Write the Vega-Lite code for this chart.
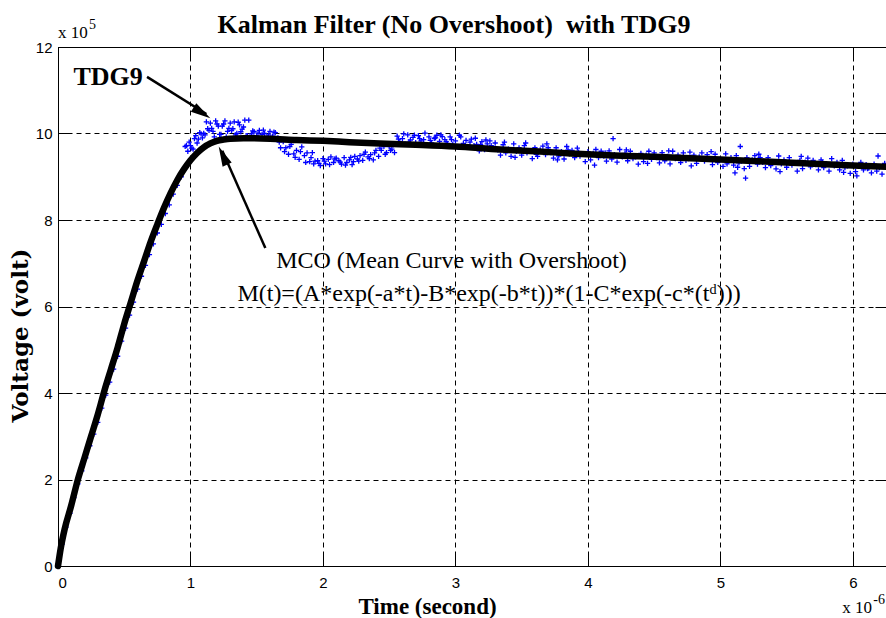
{
"$schema": "https://vega.github.io/schema/vega-lite/v6.json",
"width": 828, "height": 519,
"autosize": {"type": "none"},
"padding": {"left": 58, "top": 47, "right": 0, "bottom": 52},
"background": "white",
"title": {"text": "Kalman Filter (No Overshoot)\u00a0 with TDG9", "font": "Liberation Serif", "fontSize": 26, "fontWeight": "bold", "color": "black", "anchor": "middle", "frame": "group", "dx": -18, "dy": 55, "offset": 14, "baseline": "alphabetic"},
"config": {
  "view": {"stroke": "black", "strokeWidth": 1},
  "axis": {"domainColor": "black", "tickColor": "black", "tickSize": -11, "tickWidth": 1, "gridColor": "black", "gridDash": [5, 4], "gridOpacity": 1, "gridWidth": 1, "labelFont": "Liberation Sans", "labelFontSize": 15, "labelColor": "black", "titleFont": "Liberation Serif", "titleFontWeight": "bold", "titleColor": "black", "titleFontSize": 23}
},
"datasets": {
"pts": [
{"t":0.01,"v":0.15},{"t":0.03,"v":0.5},{"t":0.06,"v":0.9},{"t":0.09,"v":1.22},{"t":0.12,"v":1.58},{"t":0.15,"v":1.9},{"t":0.18,"v":2.2},{"t":0.21,"v":2.5},{"t":0.24,"v":2.78},{"t":0.27,"v":3.05},{"t":0.30,"v":3.32},{"t":0.33,"v":3.65},{"t":0.36,"v":3.95},{"t":0.39,"v":4.25},{"t":0.42,"v":4.55},{"t":0.45,"v":4.85},{"t":0.48,"v":5.2},{"t":0.51,"v":5.5},{"t":0.54,"v":5.8},{"t":0.57,"v":6.1},{"t":0.60,"v":6.4},{"t":0.63,"v":6.7},{"t":0.66,"v":6.95},{"t":0.69,"v":7.2},{"t":0.72,"v":7.45},{"t":0.75,"v":7.7},{"t":0.78,"v":7.9},{"t":0.81,"v":8.15},{"t":0.84,"v":8.35},{"t":0.87,"v":8.6},{"t":0.90,"v":8.8},{"t":0.93,"v":9.0},{"t":0.95,"v":9.15},
{"t":0.96,"v":9.70},{"t":0.98,"v":9.59},{"t":1.00,"v":9.72},{"t":1.02,"v":9.64},{"t":1.04,"v":9.95},{"t":1.06,"v":9.87},{"t":1.08,"v":9.99},
{"t":0.97,"v":9.72},{"t":0.99,"v":9.80},{"t":1.01,"v":9.66},{"t":1.03,"v":9.88},{"t":1.05,"v":9.78},{"t":1.07,"v":10.02},{"t":1.09,"v":9.90},
{"t":1.10,"v":10.00},{"t":1.12,"v":10.27},{"t":1.14,"v":10.07},{"t":1.16,"v":10.12},{"t":1.18,"v":9.92},{"t":1.20,"v":10.22},{"t":1.22,"v":9.98},{"t":1.24,"v":10.17},{"t":1.26,"v":10.29},{"t":1.28,"v":10.05},{"t":1.30,"v":10.24},{"t":1.32,"v":10.11},{"t":1.34,"v":9.97},{"t":1.36,"v":10.26},{"t":1.38,"v":10.04},{"t":1.40,"v":10.15},{"t":1.42,"v":9.95},{"t":1.44,"v":10.31},
{"t":1.11,"v":9.97},{"t":1.13,"v":10.11},{"t":1.15,"v":10.24},{"t":1.17,"v":10.05},{"t":1.19,"v":10.29},{"t":1.21,"v":10.17},{"t":1.23,"v":9.98},{"t":1.25,"v":10.22},{"t":1.27,"v":9.92},{"t":1.29,"v":10.12},{"t":1.31,"v":10.07},{"t":1.33,"v":10.27},{"t":1.35,"v":10.00},{"t":1.37,"v":10.20},{"t":1.39,"v":10.10},{"t":1.41,"v":10.31},{"t":1.43,"v":9.95},
{"t":1.46,"v":9.99},{"t":1.48,"v":10.04},{"t":1.50,"v":9.94},{"t":1.52,"v":10.07},{"t":1.54,"v":9.98},{"t":1.56,"v":10.00},{"t":1.58,"v":9.90},{"t":1.60,"v":10.05},{"t":1.62,"v":9.94},{"t":1.64,"v":10.02},
{"t":1.47,"v":10.06},{"t":1.51,"v":10.01},{"t":1.55,"v":10.08},{"t":1.59,"v":9.97},{"t":1.63,"v":10.03},
{"t":1.66,"v":9.90},{"t":1.68,"v":9.67},{"t":1.70,"v":9.81},{"t":1.72,"v":9.67},{"t":1.74,"v":9.52},{"t":1.76,"v":9.75},{"t":1.78,"v":9.53},{"t":1.80,"v":9.61},{"t":1.82,"v":9.40},{"t":1.84,"v":9.69},{"t":1.86,"v":9.49},{"t":1.88,"v":9.55},{"t":1.90,"v":9.35},{"t":1.92,"v":9.56},{"t":1.94,"v":9.36},
{"t":1.67,"v":9.80},{"t":1.71,"v":9.58},{"t":1.75,"v":9.70},{"t":1.79,"v":9.45},{"t":1.83,"v":9.58},{"t":1.87,"v":9.33},{"t":1.91,"v":9.44},{"t":1.93,"v":9.30},
{"t":1.96,"v":9.37},{"t":1.98,"v":9.26},{"t":2.00,"v":9.42},{"t":2.02,"v":9.30},{"t":2.04,"v":9.40},{"t":2.06,"v":9.46},{"t":2.08,"v":9.33},{"t":2.10,"v":9.43},{"t":2.12,"v":9.37},{"t":2.14,"v":9.29},{"t":2.16,"v":9.44},{"t":2.18,"v":9.33},{"t":2.20,"v":9.39},{"t":2.22,"v":9.28},{"t":2.24,"v":9.47},
{"t":1.97,"v":9.31},{"t":2.01,"v":9.36},{"t":2.05,"v":9.28},{"t":2.09,"v":9.41},{"t":2.13,"v":9.34},{"t":2.17,"v":9.27},{"t":2.21,"v":9.45},{"t":2.23,"v":9.35},
{"t":2.26,"v":9.41},{"t":2.28,"v":9.49},{"t":2.30,"v":9.38},{"t":2.32,"v":9.57},{"t":2.34,"v":9.46},{"t":2.36,"v":9.51},{"t":2.38,"v":9.39},{"t":2.40,"v":9.61},{"t":2.42,"v":9.47},{"t":2.44,"v":9.61},{"t":2.46,"v":9.70},{"t":2.48,"v":9.56},{"t":2.50,"v":9.70},{"t":2.52,"v":9.64},{"t":2.54,"v":9.56},
{"t":2.27,"v":9.36},{"t":2.31,"v":9.52},{"t":2.35,"v":9.42},{"t":2.39,"v":9.55},{"t":2.43,"v":9.66},{"t":2.47,"v":9.52},{"t":2.51,"v":9.61},{"t":2.53,"v":9.74},
{"t":2.56,"v":9.94},{"t":2.58,"v":9.81},{"t":2.60,"v":9.88},{"t":2.62,"v":9.76},{"t":2.64,"v":9.97},{"t":2.66,"v":9.85},{"t":2.68,"v":9.91},{"t":2.70,"v":9.79},{"t":2.72,"v":9.95},{"t":2.74,"v":9.83},{"t":2.76,"v":9.86},{"t":2.78,"v":9.74},{"t":2.80,"v":9.92},{"t":2.82,"v":9.78},{"t":2.84,"v":9.89},{"t":2.86,"v":9.96},{"t":2.88,"v":9.82},{"t":2.90,"v":9.93},{"t":2.92,"v":9.86},{"t":2.94,"v":9.77},
{"t":2.57,"v":9.87},{"t":2.61,"v":9.99},{"t":2.65,"v":9.80},{"t":2.69,"v":9.96},{"t":2.73,"v":9.88},{"t":2.77,"v":10.01},{"t":2.81,"v":9.84},{"t":2.85,"v":9.90},{"t":2.89,"v":9.97},{"t":2.93,"v":9.81},
{"t":2.96,"v":9.92},{"t":2.98,"v":9.75},{"t":3.00,"v":9.83},{"t":3.02,"v":9.68},{"t":3.04,"v":9.92},{"t":3.06,"v":9.77},{"t":3.08,"v":9.84},{"t":3.10,"v":9.69},{"t":3.12,"v":9.87},{"t":3.14,"v":9.72},{"t":3.16,"v":9.75},{"t":3.18,"v":9.60},{"t":3.20,"v":9.81},{"t":3.22,"v":9.63},{"t":3.24,"v":9.76},{"t":3.26,"v":9.83},{"t":3.28,"v":9.66},{"t":3.30,"v":9.78},
{"t":2.97,"v":9.86},{"t":3.03,"v":9.96},{"t":3.07,"v":9.71},{"t":3.11,"v":9.80},{"t":3.15,"v":9.89},{"t":3.19,"v":9.74},{"t":3.23,"v":9.85},{"t":3.27,"v":9.72},
{"t":3.32,"v":9.62},{"t":3.34,"v":9.50},{"t":3.36,"v":9.74},{"t":3.38,"v":9.55},{"t":3.40,"v":9.64},{"t":3.42,"v":9.47},{"t":3.44,"v":9.76},{"t":3.46,"v":9.59},{"t":3.48,"v":9.67},{"t":3.50,"v":9.50},{"t":3.52,"v":9.72},{"t":3.54,"v":9.55},{"t":3.56,"v":9.59},{"t":3.58,"v":9.42},{"t":3.60,"v":9.67},{"t":3.62,"v":9.47},{"t":3.64,"v":9.62},{"t":3.66,"v":9.71},{"t":3.68,"v":9.51},{"t":3.70,"v":9.67},{"t":3.72,"v":9.56},{"t":3.74,"v":9.43},{"t":3.76,"v":9.67},{"t":3.78,"v":9.48},{"t":3.80,"v":9.58},{"t":3.82,"v":9.41},{"t":3.84,"v":9.70},{"t":3.86,"v":9.53},{"t":3.88,"v":9.61},{"t":3.90,"v":9.44},{"t":3.92,"v":9.66},{"t":3.94,"v":9.48},{"t":3.96,"v":9.52},{"t":3.98,"v":9.35},
{"t":3.37,"v":9.80},{"t":3.45,"v":9.45},{"t":3.53,"v":9.78},{"t":3.61,"v":9.52},{"t":3.69,"v":9.76},{"t":3.77,"v":9.39},{"t":3.85,"v":9.62},{"t":3.93,"v":9.57},
{"t":4.00,"v":9.58},{"t":4.02,"v":9.39},{"t":4.04,"v":9.54},{"t":4.06,"v":9.63},{"t":4.08,"v":9.44},{"t":4.10,"v":9.59},{"t":4.12,"v":9.48},{"t":4.14,"v":9.36},{"t":4.16,"v":9.60},{"t":4.18,"v":9.41},{"t":4.20,"v":9.51},{"t":4.22,"v":9.34},{"t":4.24,"v":9.63},{"t":4.26,"v":9.46},{"t":4.28,"v":9.54},{"t":4.30,"v":9.37},{"t":4.32,"v":9.59},{"t":4.34,"v":9.42},{"t":4.36,"v":9.46},{"t":4.38,"v":9.29},{"t":4.40,"v":9.54},{"t":4.42,"v":9.35},{"t":4.44,"v":9.50},{"t":4.46,"v":9.59},{"t":4.48,"v":9.40},{"t":4.50,"v":9.55},{"t":4.52,"v":9.44},{"t":4.54,"v":9.32},{"t":4.56,"v":9.56},{"t":4.58,"v":9.37},{"t":4.60,"v":9.47},{"t":4.62,"v":9.30},{"t":4.64,"v":9.59},{"t":4.66,"v":9.42},{"t":4.68,"v":9.50},{"t":4.70,"v":9.33},{"t":4.72,"v":9.55},{"t":4.74,"v":9.38},{"t":4.76,"v":9.42},{"t":4.78,"v":9.25},{"t":4.80,"v":9.50},{"t":4.82,"v":9.31},{"t":4.84,"v":9.46},{"t":4.86,"v":9.55},{"t":4.88,"v":9.36},{"t":4.90,"v":9.51},{"t":4.92,"v":9.40},{"t":4.94,"v":9.28},{"t":4.96,"v":9.52},{"t":4.98,"v":9.33},
{"t":4.19,"v":9.88},{"t":4.05,"v":9.27},{"t":4.13,"v":9.55},{"t":4.29,"v":9.62},{"t":4.45,"v":9.31},{"t":4.61,"v":9.60},{"t":4.77,"v":9.57},{"t":4.93,"v":9.58},
{"t":5.00,"v":9.41},{"t":5.02,"v":9.24},{"t":5.04,"v":9.53},{"t":5.06,"v":9.36},{"t":5.08,"v":9.44},{"t":5.10,"v":9.27},{"t":5.12,"v":9.49},{"t":5.14,"v":9.32},{"t":5.16,"v":9.36},{"t":5.18,"v":9.19},{"t":5.20,"v":9.44},{"t":5.22,"v":9.24},{"t":5.24,"v":9.39},{"t":5.26,"v":9.49},{"t":5.28,"v":9.29},{"t":5.30,"v":9.44},{"t":5.32,"v":9.33},{"t":5.34,"v":9.21},{"t":5.36,"v":9.44},{"t":5.38,"v":9.26},{"t":5.40,"v":9.35},{"t":5.42,"v":9.18},{"t":5.44,"v":9.48},{"t":5.46,"v":9.30},{"t":5.48,"v":9.39},{"t":5.50,"v":9.22},{"t":5.52,"v":9.44},{"t":5.54,"v":9.27},{"t":5.56,"v":9.31},{"t":5.58,"v":9.13},{"t":5.60,"v":9.38},{"t":5.62,"v":9.19},{"t":5.64,"v":9.34},{"t":5.66,"v":9.43},{"t":5.68,"v":9.23},{"t":5.70,"v":9.38},{"t":5.72,"v":9.28},{"t":5.74,"v":9.16},{"t":5.76,"v":9.39},{"t":5.78,"v":9.21},{"t":5.80,"v":9.30},{"t":5.82,"v":9.13},{"t":5.84,"v":9.42},{"t":5.86,"v":9.25},{"t":5.88,"v":9.33},{"t":5.90,"v":9.16},{"t":5.92,"v":9.38},{"t":5.94,"v":9.21},{"t":5.96,"v":9.25},{"t":5.98,"v":9.08},
{"t":5.15,"v":9.70},{"t":5.19,"v":8.97},{"t":5.11,"v":9.09},{"t":5.05,"v":9.30},{"t":5.13,"v":9.22},{"t":5.29,"v":9.52},{"t":5.45,"v":9.12},{"t":5.61,"v":9.47},{"t":5.77,"v":9.33},{"t":5.93,"v":9.10},
{"t":6.00,"v":9.29},{"t":6.02,"v":9.12},{"t":6.04,"v":9.25},{"t":6.06,"v":9.33},{"t":6.08,"v":9.16},{"t":6.10,"v":9.28},{"t":6.12,"v":9.20},{"t":6.14,"v":9.09},{"t":6.16,"v":9.29},{"t":6.18,"v":9.13},{"t":6.20,"v":9.21},{"t":6.22,"v":9.06},{"t":6.24,"v":9.31},
{"t":6.03,"v":9.02},{"t":6.11,"v":9.19},{"t":6.19,"v":9.48}
],
"curve": [
{"t":0,"v":0},{"t":0.02,"v":0.4},{"t":0.05,"v":0.85},{"t":0.1,"v":1.4},{"t":0.15,"v":2.0},{"t":0.2,"v":2.5},{"t":0.25,"v":3.0},{"t":0.3,"v":3.5},{"t":0.35,"v":4.05},{"t":0.4,"v":4.55},{"t":0.45,"v":5.05},{"t":0.5,"v":5.6},{"t":0.55,"v":6.1},{"t":0.6,"v":6.6},{"t":0.65,"v":7.05},{"t":0.7,"v":7.5},{"t":0.75,"v":7.9},{"t":0.8,"v":8.28},{"t":0.85,"v":8.62},{"t":0.9,"v":8.92},{"t":0.95,"v":9.17},{"t":1.0,"v":9.38},{"t":1.05,"v":9.55},{"t":1.1,"v":9.68},{"t":1.15,"v":9.77},{"t":1.2,"v":9.83},{"t":1.25,"v":9.86},{"t":1.3,"v":9.88},{"t":1.4,"v":9.89},{"t":1.6,"v":9.88},{"t":1.8,"v":9.85},{"t":2.0,"v":9.83},{"t":2.2,"v":9.8},{"t":2.43,"v":9.77},{"t":2.7,"v":9.74},{"t":3.0,"v":9.7},{"t":3.34,"v":9.63},{"t":3.6,"v":9.59},{"t":3.87,"v":9.54},{"t":4.2,"v":9.49},{"t":4.5,"v":9.46},{"t":5.0,"v":9.4},{"t":5.5,"v":9.33},{"t":6.0,"v":9.26},{"t":6.25,"v":9.23}
]
},
"resolve": {"axis": {"x": "independent", "y": "independent"}},
"layer": [
{"data": {"name": "pts"},
 "mark": {"type": "point", "shape": "M-1,0H1M0,-1V1", "filled": false, "stroke": "#0000ff", "strokeWidth": 1.3, "size": 28, "opacity": 1},
 "encoding": {
  "x": {"field": "t", "type": "quantitative", "scale": {"domain": [0, 6.25], "nice": false, "zero": false}, "axis": {"orient": "bottom", "values": [0,1,2,3,4,5,6], "grid": true, "title": "Time (second)", "labelPadding": 20, "titleX": 369, "titleY": 47, "titleBaseline": "alphabetic", "titleAnchor": "middle", "titleAlign": "center"}},
  "y": {"field": "v", "type": "quantitative", "scale": {"domain": [0, 12], "nice": false, "zero": false}, "axis": {"orient": "left", "values": [0,2,4,6,8,10,12], "grid": true, "title": "Voltage (volt)", "labelPadding": 17, "titleFont": "DejaVu Serif", "titleFontSize": 23, "titleX": -31, "titleY": 288, "titleAngle": -90, "titleBaseline": "alphabetic", "titleAlign": "center"}}
 }},
{"data": {"name": "curve"},
 "mark": {"type": "line", "color": "black", "strokeWidth": 6.5, "interpolate": "monotone", "strokeCap": "round"},
 "encoding": {
  "x": {"field": "t", "type": "quantitative", "scale": {"domain": [0, 6.25], "nice": false, "zero": false}, "axis": {"orient": "top", "values": [0,1,2,3,4,5,6], "labels": false, "grid": false, "title": null}},
  "y": {"field": "v", "type": "quantitative", "scale": {"domain": [0, 12], "nice": false, "zero": false}, "axis": {"orient": "right", "values": [0,2,4,6,8,10,12], "labels": false, "grid": false, "title": null}}
 }},
{"data": {"values": [{"t1": 0.672, "v1": 11.31, "t2": 1.12, "v2": 10.45}, {"t1": 1.565, "v1": 7.35, "t2": 1.24, "v2": 9.6}]},
 "mark": {"type": "rule", "color": "black", "strokeWidth": 2.5},
 "encoding": {
  "x": {"field": "t1", "type": "quantitative", "axis": null},
  "y": {"field": "v1", "type": "quantitative", "axis": null},
  "x2": {"field": "t2"}, "y2": {"field": "v2"}
 }},
{"data": {"values": [{"t": 1.15, "v": 10.35}]},
 "mark": {"type": "point", "shape": "M0,0L0.5,2L-0.5,2Z", "filled": true, "color": "black", "opacity": 1, "size": 400, "angle": 123},
 "encoding": {"x": {"field": "t", "type": "quantitative", "axis": null}, "y": {"field": "v", "type": "quantitative", "axis": null}}},
{"data": {"values": [{"t": 1.213, "v": 9.70}]},
 "mark": {"type": "point", "shape": "M0,0L0.5,2L-0.5,2Z", "filled": true, "color": "black", "opacity": 1, "size": 400, "angle": 335},
 "encoding": {"x": {"field": "t", "type": "quantitative", "axis": null}, "y": {"field": "v", "type": "quantitative", "axis": null}}},
{"data": {"values": [{"t": 0.117, "v": 11.12, "label": "TDG9"}]},
 "mark": {"type": "text", "font": "Liberation Serif", "fontSize": 26, "fontWeight": "bold", "align": "left", "baseline": "alphabetic", "color": "black"},
 "encoding": {"x": {"field": "t", "type": "quantitative", "axis": null}, "y": {"field": "v", "type": "quantitative", "axis": null}, "text": {"field": "label"}}},
{"data": {"values": [{"t": 1.647, "v": 6.9, "label": "MCO (Mean Curve with Overshoot)"}, {"t": 1.354, "v": 6.12, "label": "M(t)=(A*exp(-a*t)-B*exp(-b*t))*(1-C*exp(-c*(tᵈ)))"}]},
 "mark": {"type": "text", "font": "Liberation Serif", "fontSize": 24, "align": "left", "baseline": "alphabetic", "color": "black"},
 "encoding": {"x": {"field": "t", "type": "quantitative", "axis": null}, "y": {"field": "v", "type": "quantitative", "axis": null}, "text": {"field": "label"}}},
{"data": {"values": [{"t": 0, "v": 12.21, "label": "x 10"}, {"t": 5.92, "v": -1.09, "label": "x 10"}]},
 "mark": {"type": "text", "font": "Liberation Serif", "fontSize": 17, "align": "left", "baseline": "alphabetic", "color": "black"},
 "encoding": {"x": {"field": "t", "type": "quantitative", "axis": null}, "y": {"field": "v", "type": "quantitative", "axis": null}, "text": {"field": "label"}}},
{"data": {"values": [{"t": 0, "v": 12.21, "label": "5"}, {"t": 5.92, "v": -1.09, "label": "-6"}]},
 "mark": {"type": "text", "font": "Liberation Serif", "fontSize": 14, "align": "left", "baseline": "alphabetic", "color": "black", "dx": 31, "dy": -9},
 "encoding": {"x": {"field": "t", "type": "quantitative", "axis": null}, "y": {"field": "v", "type": "quantitative", "axis": null}, "text": {"field": "label"}}}
]
}
